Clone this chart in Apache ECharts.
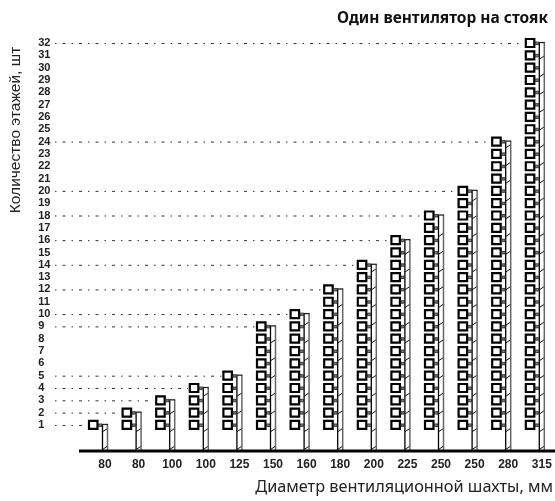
<!DOCTYPE html>
<html>
<head>
<meta charset="utf-8">
<style>html,body{margin:0;padding:0;background:#fff}#c{width:555px;height:501px}</style>
<script src="https://cdn.jsdelivr.net/npm/echarts@6/dist/echarts.min.js"></script>
</head>
<body>
<div id="c"></div>
<script>
const diameters = ['80','80','100','100','125','150','160','180','200','225','250','250','280','315'];
const floors = [1,2,3,4,5,9,10,12,14,16,18,20,24,32];
const chartTitle = 'Один вентилятор на стояк';
const xName = 'Диаметр вентиляционной шахты, мм';
const yName = 'Количество этажей, шт';

const chart = echarts.init(document.getElementById('c'), null, {renderer:'canvas'});

function renderColumn(params, api) {
  const i = api.value(0), v = api.value(1);
  const top = api.coord([i, v]);
  const cx = top[0];
  const base = api.coord([i, -1])[1] + 1;
  const kids = [];
  const line = (x1,y1,x2,y2,stroke,lw,dash) => kids.push({type:'line',
    shape:{x1,y1,x2,y2}, style:{stroke,lineWidth:lw,lineDash:dash||null}});
  // leader line from the floor labels to the top box
  line(55, top[1]+0.5, cx-18, top[1]+0.5, '#333', 1, [1.5,6,3,6]);
  // shaft
  line(cx-2.5, top[1]-0.5, cx-2.5, base, '#000', 1.3);
  line(cx+2.5, top[1]-0.5, cx+2.5, base, '#666', 1.5);
  line(cx-3, top[1]-0.5, cx+3, top[1]-0.5, '#222', 1.3);
  // diagonal ties inside the shaft
  for (let f = -0.87; f <= v - 0.3; f += 1.44) {
    const y = api.coord([i, f])[1];
    line(cx-2.5, y+1.5, cx+2, y-1.5, '#111', 1);
  }
  // a box and a connector per floor
  for (let f = 1; f <= v; f++) {
    const y = api.coord([i, f])[1];
    kids.push({type:'rect', shape:{x:cx-16, y:y-4, width:8.5, height:8},
      style:{fill:'#fff', stroke:'#000', lineWidth:2.2}});
    kids.push({type:'rect', shape:{x:cx-6.5, y:y-1, width:3.5, height:2.5},
      style:{fill:'#777', stroke:'#222', lineWidth:0.8}});
  }
  return {type:'group', children:kids};
}

chart.setOption({
  animation:false,
  backgroundColor:'#fff',
  title:{text:chartTitle, left:332, top:6,
    textStyle:{fontFamily:'Noto Sans',fontSize:15.5,fontWeight:'bold',color:'#111'}},
  grid:{left:88.2, width:470.4, top:30.7, height:449.6-30.7, outerBoundsMode:'none'},
  xAxis:{type:'category', data:diameters, offset:1.5,
    axisLine:{show:false}, axisTick:{show:false},
    axisLabel:{interval:0, margin:8, color:'#222',
      fontFamily:'Liberation Sans', fontWeight:'bold', fontSize:12}},
  yAxis:{type:'value', min:-1, max:33, interval:1,
    splitLine:{show:false}, axisLine:{show:false}, axisTick:{show:false},
    axisLabel:{margin:50, align:'left', color:'#222',
      fontFamily:'Liberation Sans', fontWeight:'bold', fontSize:11,
      formatter:v => (v >= 1 && v <= 32) ? String(v) : ''}},
  series:[{type:'custom', clip:false, renderItem:renderColumn,
    data:floors.map((v,i)=>[i,v]), encode:{x:0,y:1}}],
  graphic:[
    {type:'line', shape:{x1:79,y1:451,x2:555,y2:451}, style:{stroke:'#000',lineWidth:3.2}, z:10},
    {type:'text', x:553, y:487, style:{text:xName, align:'right', verticalAlign:'middle',
      fill:'#222', font:'16.3px "Noto Sans"'}},
    {type:'text', x:16, y:130, rotation:Math.PI/2, style:{text:yName, align:'center', verticalAlign:'middle',
      fill:'#222', font:'15.5px "Liberation Sans"'}}
  ]
});
</script>
</body>
</html>
